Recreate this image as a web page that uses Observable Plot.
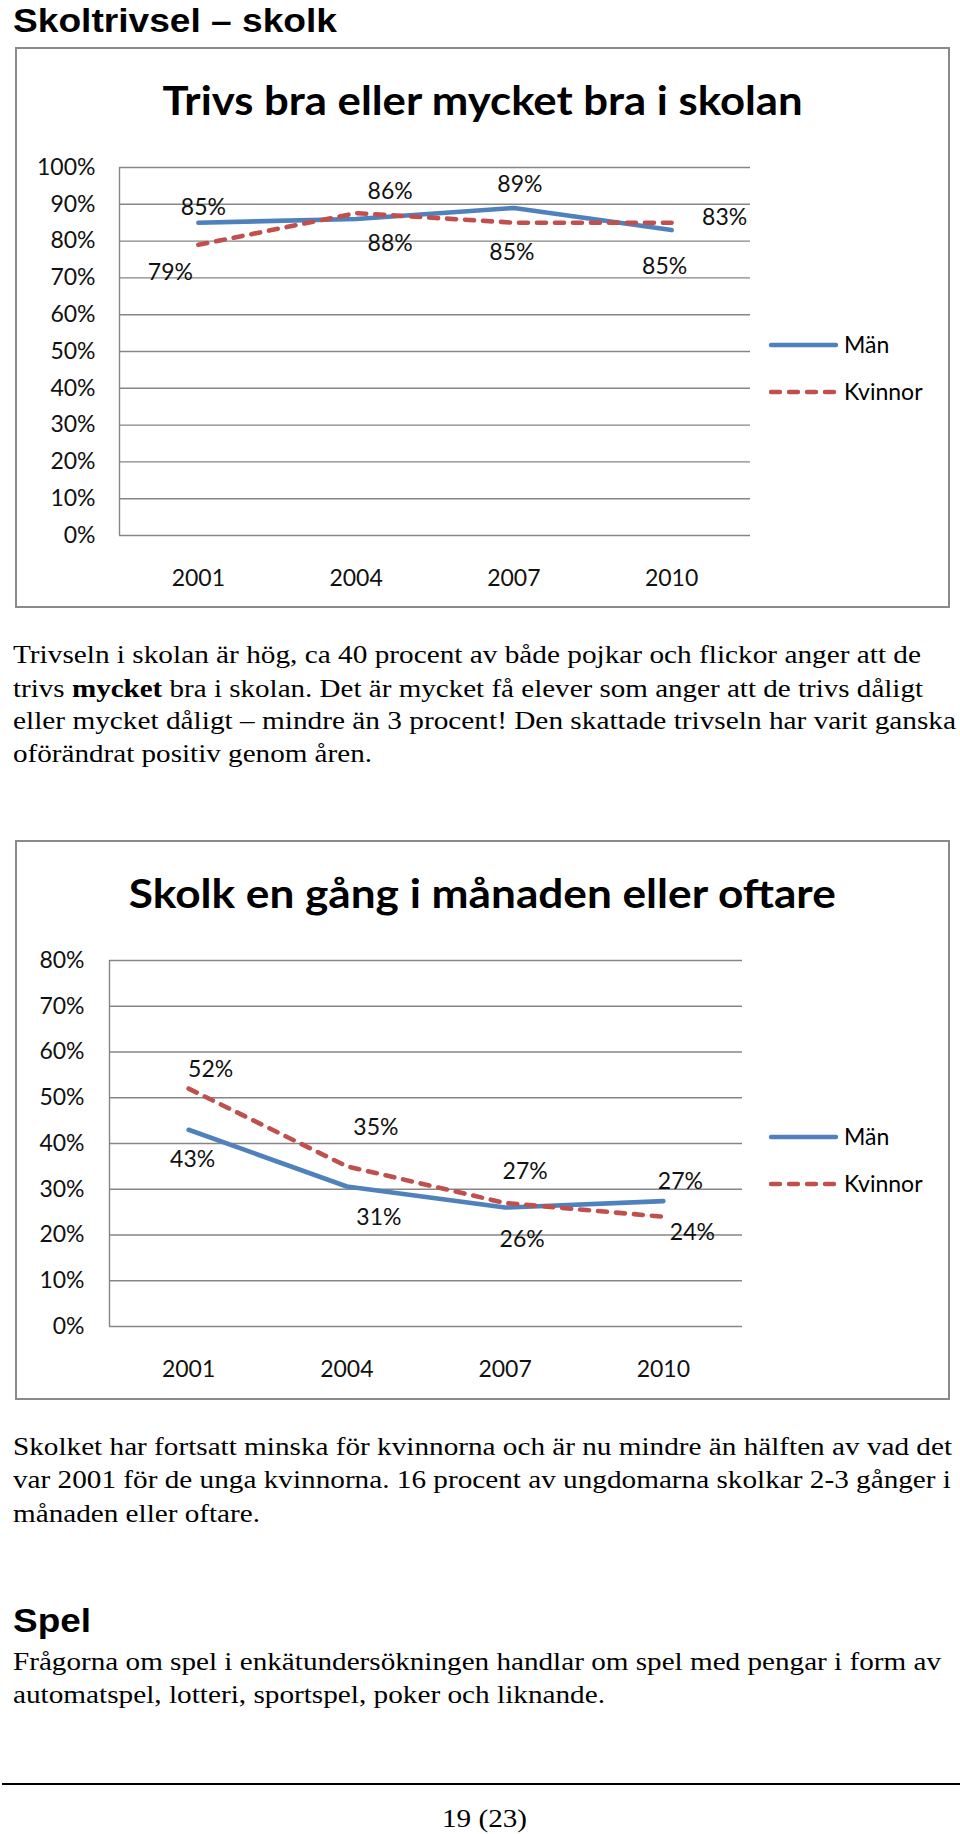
<!DOCTYPE html>
<html><head><meta charset="utf-8">
<script src="https://cdn.jsdelivr.net/npm/d3@7"></script>
<script src="https://cdn.jsdelivr.net/npm/@observablehq/plot@0.6"></script>
<style>
body{margin:0;background:#fff;}
#page{position:relative;width:960px;height:1834px;overflow:hidden;background:#fff;}
.abs{position:absolute;white-space:nowrap;color:#000;transform-origin:0 50%;}
.h{font-family:"Liberation Sans",Arial,sans-serif;font-weight:bold;font-size:33px;line-height:33px;}
.p{font-family:"Liberation Serif","Times New Roman",serif;font-size:26px;line-height:26px;}
.frame{position:absolute;border:2px solid #8a8a8a;box-sizing:border-box;background:#fff;}
.ctitle{font-family:Lato,sans-serif;font-weight:bold;font-size:41px;line-height:41px;text-align:center;color:#000;}
.ctitle span{display:inline-block;transform-origin:50% 50%;}
.legtxt{font-family:Lato,sans-serif;font-size:23px;line-height:23px;color:#000;}
.plotwrap{position:absolute;left:0;}
</style>
</head><body>
<div id="page"></div>
<script>
// ---------- data ----------
const years = [2001, 2004, 2007, 2010];
const seriesNames = ["Män", "Kvinnor"];
const trivselTitle = "Trivs bra eller mycket bra i skolan";
const trivselMan = [85, 86, 89, 83];
const trivselKvinnor = [79, 87.6, 85, 85];
const trivselTicks = [0, 10, 20, 30, 40, 50, 60, 70, 80, 90, 100];
const skolkTitle = "Skolk en gång i månaden eller oftare";
const skolkMan = [43, 30.6, 26, 27.4];
const skolkKvinnor = [52, 35, 27, 24];
const skolkTicks = [0, 10, 20, 30, 40, 50, 60, 70, 80];

// ---------- styling ----------
const BLUE = "#4F81BD", RED = "#C0504D", GRID = "#868686";
const page = document.getElementById("page");

// add a text line; optionally stretch it horizontally so its right edge lands at `right`
function addText(cls, html, left, top, right, extra) {
  const d = document.createElement("div");
  d.className = "abs " + cls;
  d.innerHTML = html;
  d.style.left = left + "px";
  d.style.top = top + "px";
  if (extra) Object.assign(d.style, extra);
  page.appendChild(d);
  if (right) {
    const w = d.getBoundingClientRect().width;
    d.style.transform = `scaleX(${((right - left) / w).toFixed(4)})`;
  }
  return d;
}

function chartTitle(text, top, targetWidth) {
  const d = document.createElement("div");
  d.className = "abs ctitle";
  Object.assign(d.style, {left: "16px", top: top + "px", width: "933px"});
  const s = document.createElement("span");
  s.textContent = text;
  d.appendChild(s);
  page.appendChild(d);
  const w = s.getBoundingClientRect().width;
  s.style.transform = `scaleX(${(targetWidth / w).toFixed(4)})`;
}

function legend(top1, top2) {
  const items = [[seriesNames[0], BLUE, null, top1], [seriesNames[1], RED, "9,9", top2]];
  for (const [name, color, dash, cy] of items) {
    const s = document.createElementNS("http://www.w3.org/2000/svg", "svg");
    s.setAttribute("width", 80); s.setAttribute("height", 12);
    s.style.position = "absolute"; s.style.left = "764px"; s.style.top = (cy - 6) + "px";
    const l = document.createElementNS("http://www.w3.org/2000/svg", "line");
    l.setAttribute("x1", 7); l.setAttribute("x2", 72); l.setAttribute("y1", 6); l.setAttribute("y2", 6);
    l.setAttribute("stroke", color); l.setAttribute("stroke-width", 4.4);
    l.setAttribute("stroke-linecap", "round");
    if (dash) l.setAttribute("stroke-dasharray", dash);
    s.appendChild(l); page.appendChild(s);
    addText("legtxt", name, 844, cy - 12);
  }
}

function chart(o) {
  const mk = (vals, name) => years.map((y, i) => ({year: y, value: vals[i], serie: name}));
  const dm = mk(o.man, seriesNames[0]), dk = mk(o.kvinnor, seriesNames[1]);
  const labels = [];
  const lab = (d, n) => Plot.text([d], {x: "year", y: "value", text: d => Math.round(d.value) + "%",
    dx: n[0], dy: n[1], fontSize: 23, fill: "#111"});
  dm.forEach((d, i) => labels.push(lab(d, o.nudgeMan[i])));
  dk.forEach((d, i) => labels.push(lab(d, o.nudgeKvinnor[i])));
  const svg = Plot.plot({
    width: 960, height: o.height,
    marginTop: o.mt, marginBottom: o.mb, marginLeft: o.ml, marginRight: o.mr,
    style: {fontFamily: "Lato, sans-serif", fontSize: "23px", background: "transparent", color: "#111", overflow: "visible"},
    x: {domain: [1999.5, 2011.5], ticks: years, tickFormat: d => String(d), tickSize: 0, tickPadding: 34, label: null},
    y: {domain: [0, o.ticks[o.ticks.length - 1]], ticks: o.ticks, tickFormat: d => d + "%", tickSize: 0, tickPadding: o.tp, label: null},
    marks: [
      Plot.ruleY(o.ticks, {stroke: GRID, strokeWidth: 1.4}),
      Plot.ruleX([1999.5], {stroke: GRID, strokeWidth: 1.4}),
      Plot.line(dm, {x: "year", y: "value", stroke: BLUE, strokeWidth: 4.6, strokeLinejoin: "round", strokeLinecap: "round"}),
      Plot.line(dk, {x: "year", y: "value", stroke: RED, strokeWidth: 4.6, strokeDasharray: "9,9", strokeLinecap: "round", strokeLinejoin: "round"}),
      ...labels
    ]
  });
  const w = document.createElement("div");
  w.className = "plotwrap";
  w.style.top = o.top + "px";
  w.appendChild(svg);
  page.appendChild(w);
}

// page title
addText("h", "Skoltrivsel – skolk", 13, 4, 337);

// chart 1
const f1 = document.createElement("div"); f1.className = "frame";
Object.assign(f1.style, {left: "15px", top: "47px", width: "935px", height: "561px"});
page.appendChild(f1);
chartTitle(trivselTitle, 79, 640);
chart({man: trivselMan, kvinnor: trivselKvinnor, ticks: trivselTicks, top: 130, height: 480,
  mt: 37, mb: 75, ml: 119, mr: 210, tp: 24,
  nudgeMan: [[5, -15], [34, -27], [6, -23], [53, -12]],
  nudgeKvinnor: [[-28, 28], [34, 30], [-2, 30], [-7, 44]]});
legend(345, 392);

// paragraph 1
addText("p", "Trivseln i skolan är hög, ca 40 procent av både pojkar och flickor anger att de", 13, 642, 921);
addText("p", "trivs <b>mycket</b> bra i skolan. Det är mycket få elever som anger att de trivs dåligt", 13, 676, 923);
addText("p", "eller mycket dåligt – mindre än 3 procent! Den skattade trivseln har varit ganska", 13, 708, 956);
addText("p", "oförändrat positiv genom åren.", 13, 741, 372);

// chart 2
const f2 = document.createElement("div"); f2.className = "frame";
Object.assign(f2.style, {left: "15px", top: "840px", width: "935px", height: "560px"});
page.appendChild(f2);
chartTitle(skolkTitle, 872, 707);
chart({man: skolkMan, kvinnor: skolkKvinnor, ticks: skolkTicks, top: 920, height: 480,
  mt: 40, mb: 74, ml: 109, mr: 218, tp: 25,
  nudgeMan: [[4, 30], [32, 31], [17, 32], [17, -20]],
  nudgeKvinnor: [[22, -19], [29, -39], [20, -31], [29, 16]]});
legend(1137, 1184);

// paragraph 2
addText("p", "Skolket har fortsatt minska för kvinnorna och är nu mindre än hälften av vad det", 13, 1434, 952);
addText("p", "var 2001 för de unga kvinnorna. 16 procent av ungdomarna skolkar 2-3 gånger i", 13, 1467, 951);
addText("p", "månaden eller oftare.", 13, 1501, 260);

addText("h", "Spel", 13, 1604, 91);
addText("p", "Frågorna om spel i enkätundersökningen handlar om spel med pengar i form av", 13, 1649, 941);
addText("p", "automatspel, lotteri, sportspel, poker och liknande.", 13, 1682, 605);

const rule = document.createElement("div");
Object.assign(rule.style, {position: "absolute", left: "2px", top: "1783px", width: "958px", height: "2px", background: "#000"});
page.appendChild(rule);
addText("p", "19 (23)", 442, 1809, 527, {lineHeight: "20px"});
</script>
</body></html>
